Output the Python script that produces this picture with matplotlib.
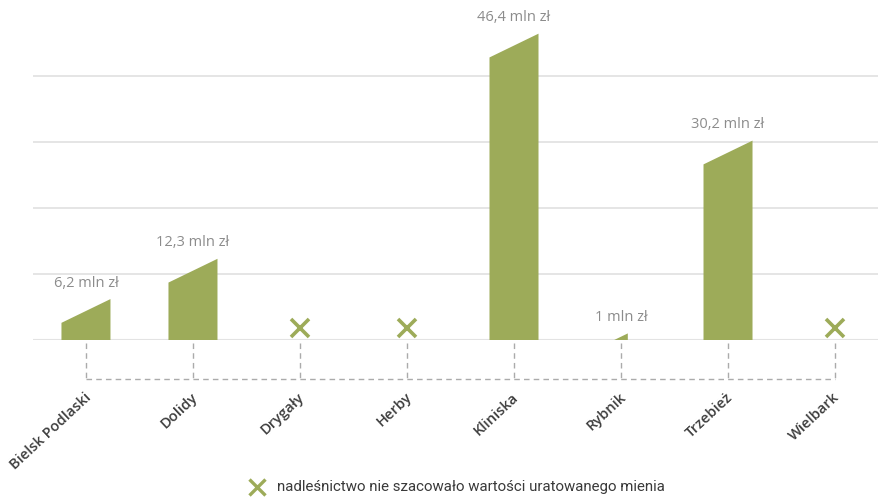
import matplotlib
matplotlib.use("Agg")
import matplotlib.pyplot as plt
import numpy as np
from matplotlib.patches import Polygon

categories = ["Bielsk Podlaski", "Dolidy", "Drygały", "Herby", "Kliniska", "Rybnik", "Trzebież", "Wielbark"]
values = [6.2, 12.3, None, None, 46.4, 1.0, 30.2, None]
value_labels = ["6,2 mln zł", "12,3 mln zł", None, None, "46,4 mln zł", "1 mln zł", "30,2 mln zł", None]
legend_text = "nadleśnictwo nie szacowało wartości uratowanego mienia"

GREEN = "#9dab59"
GRID = "#e3e3e3"
plt.rcParams['font.family'] = ['Open Sans', 'DejaVu Sans']

fig = plt.figure(figsize=(8.79, 4.97), dpi=100)
ax = fig.add_axes([33/879, 157/497, 1 - 33/879, 340/497])
ax.set_xlim(-0.495, 7.411)
ax.set_ylim(0, 51.5)
for s in ax.spines.values():
    s.set_visible(False)
ax.set_xticks([])
ax.set_yticks([10, 20, 30, 40])
ax.tick_params(left=False, labelleft=False)
ax.grid(axis='y', color=GRID, lw=1.3)
ax.axhline(0, color=GRID, lw=1.5, zorder=1)

hw = 0.229
slant = 3.6
slope = slant / (2 * hw)
for i, (v, lab) in enumerate(zip(values, value_labels)):
    if v is None:
        ax.plot(i, 1.8, marker='x', ms=13, mew=2.6, color=GREEN, zorder=3)
        continue
    if v >= slant:
        pts = [(i - hw, 0), (i - hw, v - slant), (i + hw, v), (i + hw, 0)]
    else:
        w = v / slope
        pts = [(i - w / 2, 0), (i + w / 2, v), (i + w / 2, 0)]
    ax.add_patch(Polygon(pts, closed=True, facecolor=GREEN, edgecolor='none', zorder=2))
    ax.text(i, v + 2.4, lab, ha='center', va='center', fontsize=10.5, color='#8c8c8c')

n = len(categories)
ax.vlines(range(n), -0.5, -5.9, colors='#ababab', lw=1, linestyles=(0, (4, 3)), clip_on=False)
ax.hlines(-5.9, 0, n - 1, colors='#ababab', lw=1, linestyles=(0, (4, 3)), clip_on=False)

for i, c in enumerate(categories):
    ax.text(i - 0.02, -7.6, c, rotation=43, ha='right', va='top', rotation_mode='anchor',
            fontsize=10.5, fontweight='semibold', color='#3d3d3d', clip_on=False)

ax.plot([257/879], [1 - 487/497], marker='x', ms=11, mew=2.4, color=GREEN,
        transform=fig.transFigure, clip_on=False)
fig.text(277/879, 1 - 487/497, legend_text, ha='left', va='center', fontsize=10.8,
         color='#3a3a3a', family=['Roboto', 'DejaVu Sans'])

fig.savefig("out.png", dpi=100)
